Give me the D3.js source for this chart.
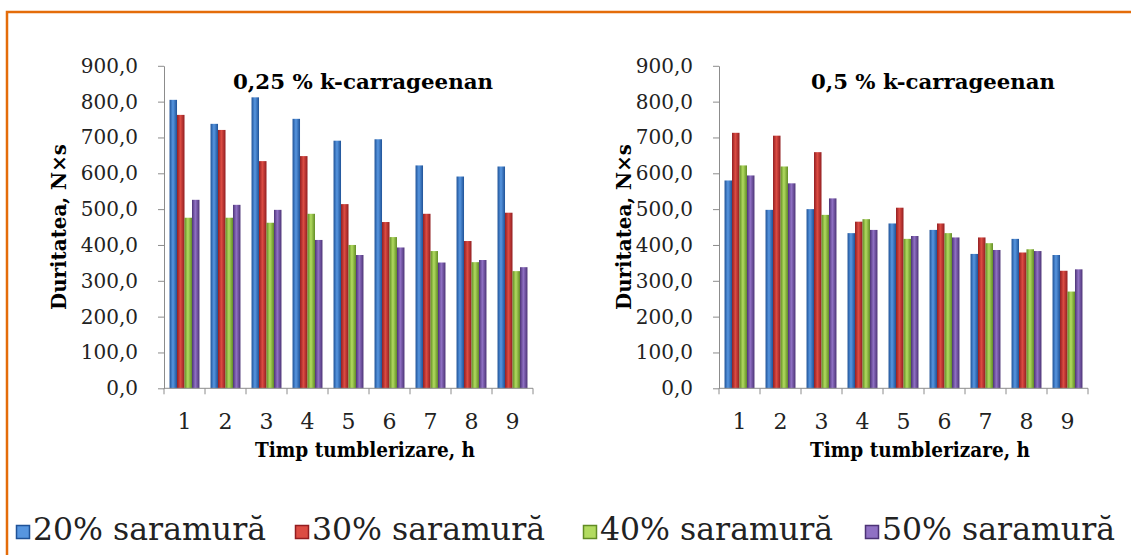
<!DOCTYPE html>
<html>
<head>
<meta charset="utf-8">
<script src="https://cdnjs.cloudflare.com/ajax/libs/d3/7.8.5/d3.min.js"></script>
<style>
  body { margin: 0; background: #fff; }
  svg { display: block; }
</style>
</head>
<body>
<svg width="1131" height="555"></svg>
<script>
// hours of tumbling
var categories = ["1", "2", "3", "4", "5", "6", "7", "8", "9"];
var seriesNames = ["20% saramură", "30% saramură", "40% saramură", "50% saramură"];
var yTicks = [0, 100, 200, 300, 400, 500, 600, 700, 800, 900];

// 0,25 % k-carrageenan
var s20a = [805, 738, 812, 752, 691, 695, 622, 591, 619];
var s30a = [763, 721, 634, 648, 514, 464, 487, 411, 490];
var s40a = [476, 476, 462, 487, 400, 422, 383, 352, 327];
var s50a = [526, 512, 498, 414, 372, 393, 351, 358, 338];

// 0,5 % k-carrageenan
var s20b = [580, 498, 500, 433, 460, 442, 375, 417, 372];
var s30b = [713, 705, 659, 465, 504, 460, 421, 379, 328];
var s40b = [622, 619, 484, 472, 417, 433, 405, 388, 270];
var s50b = [594, 572, 530, 442, 425, 421, 386, 383, 332];

var svg = d3.select("svg");
var serif = "'DejaVu Serif', serif";

// bar colours: dark edge / light middle, like the excel bevel
var colors = [
  {edge: "#1f5297", mid: "#5796e0"},
  {edge: "#921d20", mid: "#dc4c43"},
  {edge: "#618c24", mid: "#b2db60"},
  {edge: "#4c3376", mid: "#9071c4"}
];

var defs = svg.append("defs");
colors.forEach(function(c, i) {
  var gr = defs.append("linearGradient")
    .attr("id", "bar" + i)
    .attr("x1", "0").attr("x2", "1").attr("y1", "0").attr("y2", "0");
  gr.append("stop").attr("offset", "0%").attr("stop-color", c.edge);
  gr.append("stop").attr("offset", "45%").attr("stop-color", c.mid);
  gr.append("stop").attr("offset", "100%").attr("stop-color", c.edge);
});

// orange frame (only top and left edge are visible)
svg.append("path")
  .attr("d", "M7,555V12H1131")
  .attr("fill", "none")
  .attr("stroke", "#e46c0a")
  .attr("stroke-width", 2.5);

var y = d3.scaleLinear().domain([0, 900]).range([388.3, 65.8]);

function fmt(d) { return d.toFixed(1).replace(".", ","); }

function drawChart(left, right, data, title, titleX, titleW, axisTitleX, xTitleX) {
  var x = d3.scaleBand().domain(categories)
    .range([left, right]).paddingInner(0.27).paddingOuter(0.135);
  var xs = d3.scaleBand().domain(d3.range(4)).range([0, x.bandwidth()]);

  var g = svg.append("g");

  // bars
  data.forEach(function(vals, si) {
    g.append("g").selectAll("rect")
      .data(vals)
      .join("rect")
      .attr("x", function(d, i) { return x(categories[i]) + xs(si); })
      .attr("y", function(d) { return y(d); })
      .attr("width", xs.bandwidth())
      .attr("height", function(d) { return y(0) - y(d); })
      .attr("fill", "url(#bar" + si + ")");
  });

  // y axis
  var ya = g.append("g")
    .attr("transform", "translate(" + left + ",0)")
    .call(d3.axisLeft(y).tickValues(yTicks).tickFormat(fmt).tickSize(6).tickSizeOuter(0).tickPadding(20));
  ya.select(".domain").attr("stroke", "#8c8c8c");
  ya.selectAll(".tick line").attr("stroke", "#8c8c8c");
  ya.selectAll(".tick text")
    .attr("font-family", serif).attr("font-size", 20).attr("fill", "#222");

  // x axis: line + ticks on category boundaries
  g.append("line")
    .attr("x1", left).attr("x2", right)
    .attr("y1", y(0)).attr("y2", y(0))
    .attr("stroke", "#8c8c8c");
  var bounds = categories.map(function(c) { return x(c) - x.step() * x.paddingInner() / 2; });
  bounds.push(right);
  g.append("g").selectAll("line")
    .data(bounds)
    .join("line")
    .attr("x1", function(d) { return d; }).attr("x2", function(d) { return d; })
    .attr("y1", y(0)).attr("y2", y(0) + 6)
    .attr("stroke", "#8c8c8c");

  g.append("g").selectAll("text")
    .data(categories)
    .join("text")
    .attr("x", function(d) { return x(d) + x.bandwidth() / 2; })
    .attr("y", 429)
    .attr("text-anchor", "middle")
    .attr("font-family", serif).attr("font-size", 22).attr("fill", "#222")
    .text(function(d) { return d; });

  // titles
  g.append("text")
    .attr("x", titleX).attr("y", 89)
    .attr("text-anchor", "middle")
    .attr("font-family", serif).attr("font-weight", "bold").attr("font-size", 20)
    .attr("textLength", titleW).attr("lengthAdjust", "spacingAndGlyphs")
    .text(title);

  g.append("text")
    .attr("transform", "translate(" + axisTitleX + ",227) rotate(-90)")
    .attr("text-anchor", "middle")
    .attr("font-family", serif).attr("font-weight", "bold").attr("font-size", 21)
    .attr("textLength", 166).attr("lengthAdjust", "spacingAndGlyphs")
    .text("Duritatea, N×s");

  g.append("text")
    .attr("x", xTitleX).attr("y", 457)
    .attr("text-anchor", "middle")
    .attr("font-family", serif).attr("font-weight", "bold").attr("font-size", 21)
    .attr("textLength", 220).attr("lengthAdjust", "spacingAndGlyphs")
    .text("Timp tumblerizare, h");
}

drawChart(164, 533, [s20a, s30a, s40a, s50a], "0,25 % k-carrageenan", 363, 260, 66, 365);
drawChart(719, 1088, [s20b, s30b, s40b, s50b], "0,5 % k-carrageenan", 933, 244, 631, 920);

// legend
var legendX = [16, 295, 583, 865];
var lg = svg.append("g").selectAll("g")
  .data(seriesNames)
  .join("g")
  .attr("transform", function(d, i) { return "translate(" + legendX[i] + ",0)"; });
lg.append("rect")
  .attr("x", 0.5).attr("y", 525.5)
  .attr("width", 13).attr("height", 13)
  .attr("fill", function(d, i) { return colors[i].mid; })
  .attr("stroke", function(d, i) { return colors[i].edge; })
  .attr("stroke-width", 1.5);
lg.append("text")
  .attr("x", 17).attr("y", 540)
  .attr("font-family", serif)
  .attr("font-size", 31).attr("fill", "#222")
  .attr("textLength", 233).attr("lengthAdjust", "spacingAndGlyphs")
  .text(function(d) { return d; });
</script>
</body>
</html>
